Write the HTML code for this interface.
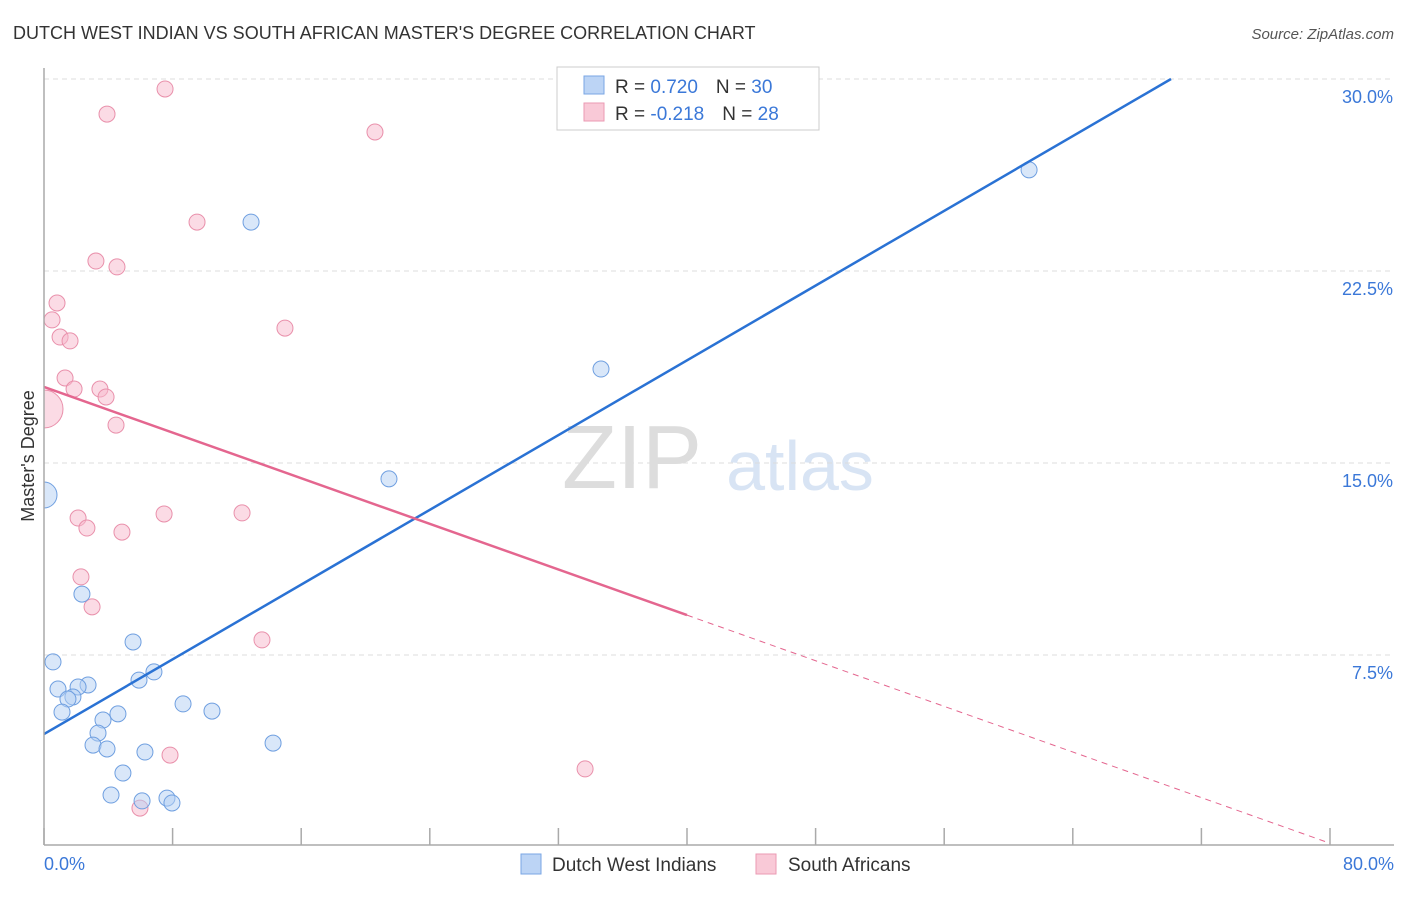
<!DOCTYPE html>
<html><head><meta charset="utf-8"><style>
body{margin:0;background:#fff;font-family:"Liberation Sans",sans-serif;}
svg text{font-family:"Liberation Sans",sans-serif;}
</style></head><body>
<svg id="chart" width="1406" height="892">
<text x="13" y="39" font-size="18" fill="#333">DUTCH WEST INDIAN VS SOUTH AFRICAN MASTER'S DEGREE CORRELATION CHART</text>
<text x="1394" y="39" font-size="15" fill="#555" font-style="italic" text-anchor="end">Source: ZipAtlas.com</text>
<text x="34" y="456" font-size="18" fill="#333" text-anchor="middle" transform="rotate(-90 34 456)">Master's Degree</text>
<text x="632" y="488" font-size="90" fill="#ddd" font-family="Liberation Serif" text-anchor="middle">ZIP</text>
<text x="800" y="490" font-size="70" fill="#d8e4f4" text-anchor="middle">atlas</text>
<g id="grid"></g><g id="marks"></g><g id="lines"></g>
<line x1="44" y1="68" x2="44" y2="845" stroke="#aaa" stroke-width="1.5"/>
<line x1="44" y1="845" x2="1394" y2="845" stroke="#aaa" stroke-width="1.5"/>
<text x="44" y="870" font-size="18" fill="#3b78d8">0.0%</text>
<text x="1394" y="870" font-size="18" fill="#3b78d8" text-anchor="end">80.0%</text>
<g>
<rect x="557" y="67" width="262" height="63" fill="#fff" stroke="#ccc"/>
<rect x="584" y="76" width="20" height="18" fill="#bcd4f5" stroke="#7aa6e4"/>
<rect x="584" y="103" width="20" height="18" fill="#f9c9d7" stroke="#eb9ab3"/>
<text x="615" y="93" font-size="19" fill="#333">R = <tspan fill="#3b78d8"> 0.720</tspan><tspan dx="18">N = </tspan><tspan fill="#3b78d8">30</tspan></text>
<text x="615" y="120" font-size="19" fill="#333">R = <tspan fill="#3b78d8">-0.218</tspan><tspan dx="18">N = </tspan><tspan fill="#3b78d8"> 28</tspan></text>
</g>
<g>
<rect x="521" y="854" width="20" height="20" fill="#bcd4f5" stroke="#7aa6e4"/>
<text x="552" y="871" font-size="19" fill="#333">Dutch West Indians</text>
<rect x="756" y="854" width="20" height="20" fill="#f9c9d7" stroke="#eb9ab3"/>
<text x="788" y="871" font-size="19" fill="#333">South Africans</text>
</g>
<defs><clipPath id="plot"><rect x="44" y="60" width="1360" height="785"/></clipPath></defs>
</svg>
<script>
const blueX=[12.88,61.28,34.65,21.46,0,2.36,0.56,5.54,0.87,2.74,2.12,1.80,1.49,1.12,5.91,6.84,4.60,3.67,3.36,8.65,10.45,3.05,3.92,6.28,14.25,4.91,4.17,6.10,7.65,7.96];
const blueY=[24.41,26.45,18.67,14.38,13.75,9.88,7.23,8.01,6.17,6.33,6.25,5.86,5.78,5.27,6.52,6.84,5.20,4.96,4.45,5.59,5.31,3.98,3.83,3.71,4.06,2.89,2.03,1.80,1.91,1.72];
const pinkX=[7.53,3.92,20.59,9.52,3.23,4.54,0.81,0.50,14.99,1.00,1.62,1.31,1.87,3.48,3.86,0,4.48,2.12,7.47,12.32,2.67,4.85,2.30,2.99,13.56,7.84,33.66,5.97];
const pinkY=[29.61,28.63,27.93,24.41,22.89,22.66,21.25,20.59,20.27,19.92,19.77,18.32,17.89,17.89,17.58,17.11,16.48,12.85,13.01,13.05,12.46,12.30,10.55,9.38,8.09,3.59,3.05,1.52];
const yTicks=[7.5,15,22.5,30];
const xTicks=[0,8,16,24,32,40,48,56,64,72,80];
const blueFit=[4.41,0.365];
const pinkFit=[17.97,-0.2228];
const NS='http://www.w3.org/2000/svg';
const sx=v=>44+v*16.075, sy=v=>847-v*25.6;
function mk(t,a,p){const e=document.createElementNS(NS,t);for(const k in a)e.setAttribute(k,a[k]);p.appendChild(e);return e;}
const grid=document.getElementById('grid'),marks=document.getElementById('marks'),lines=document.getElementById('lines');
marks.setAttribute('clip-path','url(#plot)');
yTicks.forEach(v=>{
 const l=mk('line',{x1:44,x2:1394,y1:sy(v),y2:sy(v),stroke:'#ddd','stroke-dasharray':'5 4'},grid);
 
 
 const t=mk('text',{x:1393,y:sy(v)+24,'font-size':18,fill:'#3b78d8','text-anchor':'end'},grid);
 t.textContent=v.toFixed(1)+'%';
 
 
});
xTicks.forEach(v=>{
 const l=mk('line',{x1:sx(v),x2:sx(v),y1:828,y2:845,stroke:'#aaa','stroke-width':1.5},grid);
 
 
});
function pts(X,Y,fill,stroke,big,bigR){
 X.forEach((x,i)=>{
  const c=mk('circle',{cx:sx(x),cy:sy(Y[i]),r:i===big?bigR:8,fill:fill,stroke:stroke,'stroke-width':1,'fill-opacity':0.5},marks);
  
  
 });
}
pts(pinkX,pinkY,'#f7b8cb','#e990ab',15,19);
pts(blueX,blueY,'#b4cff3','#6f9fe0',4,13);
function fit(f,x0,x1,col,dash,name){
 const l=mk('line',{x1:sx(x0),y1:sy(f[0]+f[1]*x0),x2:sx(x1),y2:sy(f[0]+f[1]*x1),stroke:col,'stroke-width':dash?1:2.5},lines);
 if(dash)l.setAttribute('stroke-dasharray','6 5');
 
 
}
fit(blueFit,0,(30-blueFit[0])/blueFit[1],'#2a72d4',false,'blue-trend-line');
fit(pinkFit,0,40,'#e4668f',false,'pink-trend-line');
fit(pinkFit,40,80,'#e4668f',true,'pink-trend-extension');
</script>
</body></html>
